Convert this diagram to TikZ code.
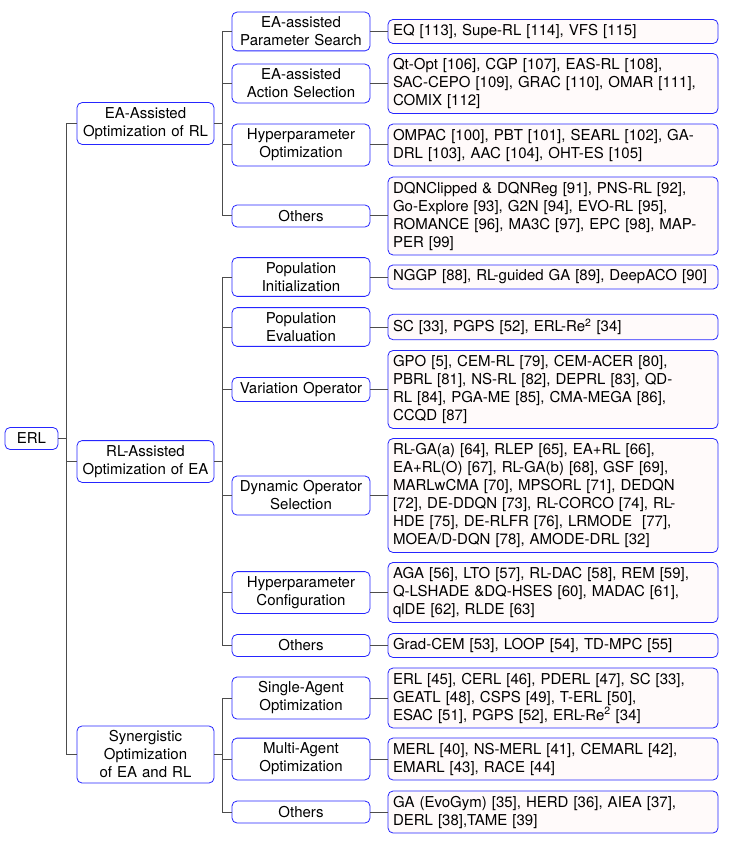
\documentclass[tikz,border=0pt]{standalone}
\usepackage{fontspec}
\setmainfont{TeX Gyre Heros}
\usepackage{xcolor}
\usepackage{tikz}
\usetikzlibrary{positioning}

\begin{document}
\begin{tikzpicture}[x=1pt,y=-1pt,font=\fontsize{15}{18}\selectfont]
	\tikzstyle{box}=[draw=blue!85,line width=0.8pt,rounded corners=5pt,fill=white,inner ysep=4.8pt,minimum height=22pt]
	\tikzstyle{rootbox}=[box,minimum width=53pt]
	\tikzstyle{catbox}=[box,text width=133pt,inner xsep=2pt,align=center]
	\tikzstyle{subbox}=[box,text width=134pt,inner xsep=2pt,align=center]
	\tikzstyle{leafbox}=[box,fill=red!2,text width=320pt,inner xsep=5pt,align=left]
	\tikzstyle{link}=[draw=black!70,line width=1pt]
	\useasboundingbox (0,0) rectangle (728,842);
	% root and main branches
	\node[rootbox](erl) at (31.5,438.5) {ERL};
	\node[catbox](a1) at (145.5,123.5) {EA-Assisted\\Optimization of RL};
	\node[catbox](a2) at (145.5,461.5) {RL-Assisted\\Optimization of EA};
	\node[catbox](a3) at (145.5,754.5) {Synergistic\\Optimization\\of EA and RL};
	% sub categories
	\node[subbox](b1) at (301,31.5) {EA-assisted\\Parameter Search};
	\node[subbox](b2) at (301,83.5) {EA-assisted\\Action Selection};
	\node[subbox](b3) at (301,145) {Hyperparameter\\Optimization};
	\node[subbox](b4) at (301,216) {Others};
	\node[subbox](b5) at (301,277) {Population\\Initialization};
	\node[subbox](b6) at (301,327) {Population\\Evaluation};
	\node[subbox](b7) at (301,389.5) {Variation Operator};
	\node[subbox](b8) at (301,495.5) {Dynamic Operator\\Selection};
	\node[subbox](b9) at (301,592.5) {Hyperparameter\\Configuration};
	\node[subbox](b10) at (301,645.5) {Others};
	\node[subbox](b11) at (301,698) {Single-Agent\\Optimization};
	\node[subbox](b12) at (301,759) {Multi-Agent\\Optimization};
	\node[subbox](b13) at (301,812) {Others};
	% methods
	\node[leafbox](c1) at (553,31.5) {EQ [113], Supe-RL [114], VFS [115]};
	\node[leafbox](c2) at (553,83.5) {Qt-Opt [106], CGP [107], EAS-RL [108],\\SAC-CEPO [109], GRAC [110], OMAR [111],\\COMIX [112]};
	\node[leafbox](c3) at (553,145) {OMPAC [100], PBT [101], SEARL [102], GA-\\DRL [103], AAC [104], OHT-ES [105]};
	\node[leafbox](c4) at (553,216) {DQNClipped \& DQNReg [91], PNS-RL [92],\\Go-Explore [93], G2N [94], EVO-RL [95],\\ROMANCE [96], MA3C [97], EPC [98], MAP-\\PER [99]};
	\node[leafbox](c5) at (553,277) {NGGP [88], RL-guided GA [89], DeepACO [90]};
	\node[leafbox](c6) at (553,327) {SC [33], PGPS [52], ERL-Re\textsuperscript{2} [34]};
	\node[leafbox](c7) at (553,389.5) {GPO [5], CEM-RL [79], CEM-ACER [80],\\PBRL [81], NS-RL [82], DEPRL [83], QD-\\RL [84], PGA-ME [85], CMA-MEGA [86],\\CCQD [87]};
	\node[leafbox](c8) at (553,495.5) {RL-GA(a) [64], RLEP [65], EA+RL [66],\\EA+RL(O) [67], RL-GA(b) [68], GSF [69],\\MARLwCMA [70], MPSORL [71], DEDQN\\{[72]}, DE-DDQN [73], RL-CORCO [74], RL-\\HDE [75], DE-RLFR [76], LRMODE~~[77],\\MOEA/D-DQN [78], AMODE-DRL [32]};
	\node[leafbox](c9) at (553,592.5) {AGA [56], LTO [57], RL-DAC [58], REM [59],\\Q-LSHADE \&DQ-HSES [60], MADAC [61],\\qlDE [62], RLDE [63]};
	\node[leafbox](c10) at (553,645.5) {Grad-CEM [53], LOOP [54], TD-MPC [55]};
	\node[leafbox](c11) at (553,698) {ERL [45], CERL [46], PDERL [47], SC [33],\\GEATL [48], CSPS [49], T-ERL [50],\\ESAC [51], PGPS [52], ERL-Re\textsuperscript{2} [34]};
	\node[leafbox](c12) at (553,759) {MERL [40], NS-MERL [41], CEMARL [42],\\EMARL [43], RACE [44]};
	\node[leafbox](c13) at (553,812) {GA (EvoGym) [35], HERD [36], AIEA [37],\\DERL [38],TAME [39]};
	% edges
	\foreach \i in {1,2,3}
		\draw[link](erl.east) -- ++(8,0) |- (a\i.west);
	\foreach \i in {1,...,4}
		\draw[link](a1.east) -- ++(8,0) |- (b\i.west);
	\foreach \i in {5,...,10}
		\draw[link](a2.east) -- ++(8,0) |- (b\i.west);
	\foreach \i in {11,12,13}
		\draw[link](a3.east) -- ++(8,0) |- (b\i.west);
	\foreach \i in {1,...,13}
		\draw[link](b\i.east) -- (c\i.west);
\end{tikzpicture}
\end{document}
